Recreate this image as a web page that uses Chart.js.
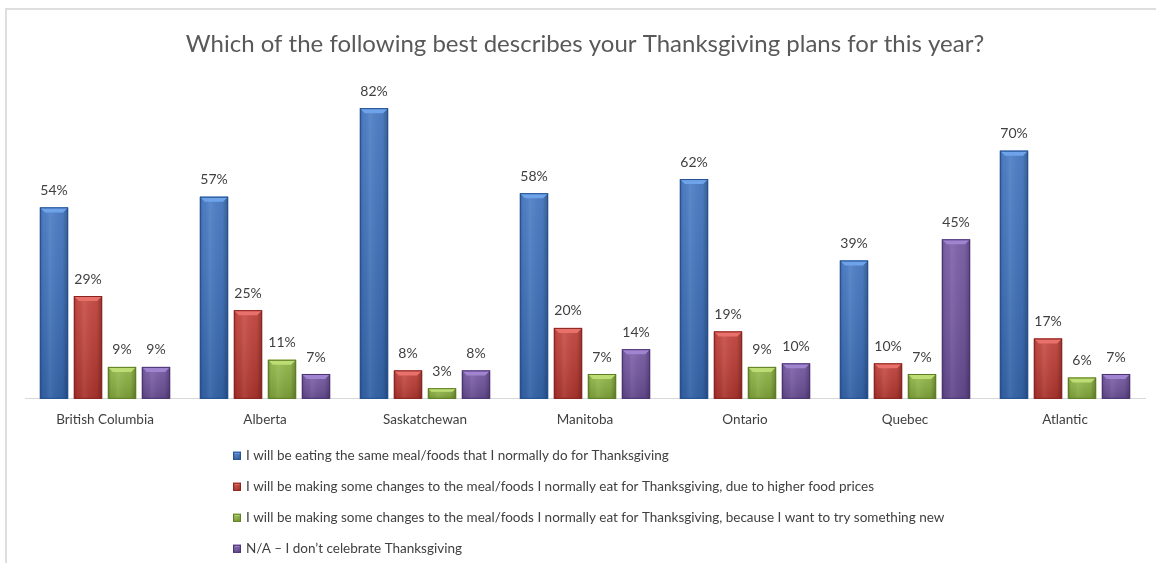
<!DOCTYPE html>
<html>
<head>
<meta charset="utf-8">
<script src="https://cdn.jsdelivr.net/npm/chart.js@4.4.0/dist/chart.umd.min.js"></script>
<style>
  html, body { margin: 0; padding: 0; background: #ffffff; }
  #wrap { position: relative; width: 1156px; height: 563px; overflow: hidden; }
  #frame { position: absolute; left: 5px; top: 8px; right: -4px; bottom: -4px;
           border-top: 2px solid #dedede; border-left: 2px solid #dedede; pointer-events: none; }
  canvas { position: absolute; left: 0; top: 0; }
</style>
</head>
<body>
<div id="wrap">
  <canvas id="chart" width="1156" height="563"></canvas>
  <div id="frame"></div>
</div>
<script>
// Regions surveyed
const categories = ['British Columbia', 'Alberta', 'Saskatchewan', 'Manitoba', 'Ontario', 'Quebec', 'Atlantic'];

// Share of respondents (%) per answer
const sameMeal     = [54, 57, 82, 58, 62, 39, 70];
const higherPrices = [29, 25, 8, 20, 19, 10, 17];
const somethingNew = [9, 11, 3, 7, 9, 7, 6];
const notCelebrate = [9, 7, 8, 14, 10, 45, 7];

const seriesLabels = [
  'I will be eating the same meal/foods that I normally do for Thanksgiving',
  'I will be making some changes to the meal/foods I normally eat for Thanksgiving, due to higher food prices',
  'I will be making some changes to the meal/foods I normally eat for Thanksgiving, because I want to try something new',
  'N/A \u2013 I don\u2019t celebrate Thanksgiving'
];

const titleText = 'Which of the following best describes your Thanksgiving plans for this year?';

// Fill, bevel highlight and edge colours for each series
const palette = [
  { fill: '#3b71c0', light: '#6ea3ea', dark: '#25508f' },
  { fill: '#c23a33', light: '#e8716b', dark: '#8a2420' },
  { fill: '#8db53f', light: '#bddc74', dark: '#5e7d25' },
  { fill: '#7153a1', light: '#a184cf', dark: '#4b3373' }
];

const FONT = 'Lato, "Open Sans", sans-serif';

function shadeBox(ctx, left, top, right, bottom, col, bevelMax) {
  const w = right - left, h = bottom - top;
  if (h <= 0) return;
  ctx.save();
  // base fill
  ctx.fillStyle = col.fill;
  ctx.fillRect(left, top, w, h);
  // slightly darker towards the bottom
  const vg = ctx.createLinearGradient(0, top, 0, bottom);
  vg.addColorStop(0, 'rgba(255,255,255,0.10)');
  vg.addColorStop(1, 'rgba(0,0,0,0.14)');
  ctx.fillStyle = vg;
  ctx.fillRect(left, top, w, h);
  // rounded-looking side shading
  const hg = ctx.createLinearGradient(left, 0, right, 0);
  hg.addColorStop(0, 'rgba(0,0,0,0.22)');
  hg.addColorStop(0.12, 'rgba(0,0,0,0.02)');
  hg.addColorStop(0.35, 'rgba(255,255,255,0.08)');
  hg.addColorStop(0.8, 'rgba(0,0,0,0.04)');
  hg.addColorStop(1, 'rgba(0,0,0,0.28)');
  ctx.fillStyle = hg;
  ctx.fillRect(left, top, w, h);
  // bevelled top face
  const b = Math.min(bevelMax, h / 3, w / 4);
  ctx.beginPath();
  ctx.moveTo(left, top);
  ctx.lineTo(right, top);
  ctx.lineTo(right - b, top + b);
  ctx.lineTo(left + b, top + b);
  ctx.closePath();
  ctx.fillStyle = col.light;
  ctx.fill();
  // outline
  ctx.strokeStyle = col.dark;
  ctx.lineWidth = 1;
  ctx.strokeRect(left + 0.5, top + 0.5, w - 1, h - 1);
  ctx.restore();
}

// Draws the bevelled bar faces and the percentage labels above each bar
const barDecor = {
  id: 'barDecor',
  afterDatasetsDraw(chart) {
    const ctx = chart.ctx;
    chart.data.datasets.forEach((ds, i) => {
      const meta = chart.getDatasetMeta(i);
      const col = palette[i];
      meta.data.forEach((bar, j) => {
        const p = bar.getProps(['x', 'y', 'base', 'width'], true);
        shadeBox(ctx, p.x - p.width / 2, p.y, p.x + p.width / 2, p.base, col, 5);
        ctx.save();
        ctx.font = '14px ' + FONT;
        ctx.fillStyle = '#404040';
        ctx.textAlign = 'center';
        ctx.textBaseline = 'middle';
        ctx.fillText(ds.data[j] + '%', p.x, p.y - 17);
        ctx.restore();
      });
    });
  }
};

// Vertical legend listed under the axis
const stackedLegend = {
  id: 'stackedLegend',
  afterDraw(chart) {
    const ctx = chart.ctx;
    const x0 = 233;
    const y0 = chart.chartArea.bottom + 57;
    const step = 31;
    chart.data.datasets.forEach((ds, i) => {
      const cy = y0 + i * step;
      shadeBox(ctx, x0, cy - 4, x0 + 8, cy + 4, palette[i], 2);
      ctx.save();
      ctx.font = '13.5px ' + FONT;
      ctx.fillStyle = '#404040';
      ctx.textAlign = 'left';
      ctx.textBaseline = 'middle';
      ctx.fillText(ds.label, x0 + 13, cy);
      ctx.restore();
    });
  }
};

const seriesValues = [sameMeal, higherPrices, somethingNew, notCelebrate];

new Chart(document.getElementById('chart'), {
  type: 'bar',
  data: {
    labels: categories,
    datasets: seriesValues.map((vals, i) => ({
      label: seriesLabels[i],
      data: vals,
      backgroundColor: palette[i].fill,
      borderWidth: 0,
      categoryPercentage: 0.85,
      barPercentage: 0.83
    }))
  },
  options: {
    responsive: false,
    animation: false,
    layout: { padding: { left: 25, right: 11, top: 0, bottom: 122 } },
    plugins: {
      legend: { display: false },
      tooltip: { enabled: false },
      title: {
        display: true,
        text: titleText,
        color: '#595959',
        font: { family: FONT, size: 24, weight: 'normal' },
        padding: { top: 30, bottom: 21 }
      }
    },
    scales: {
      x: {
        grid: { display: false, drawTicks: false },
        border: { display: true, color: '#d9d9d9', width: 1 },
        ticks: { color: '#404040', font: { family: FONT, size: 13.5 }, padding: 13 }
      },
      y: {
        display: false,
        min: 0,
        max: 90
      }
    }
  },
  plugins: [barDecor, stackedLegend]
});
</script>
</body>
</html>
